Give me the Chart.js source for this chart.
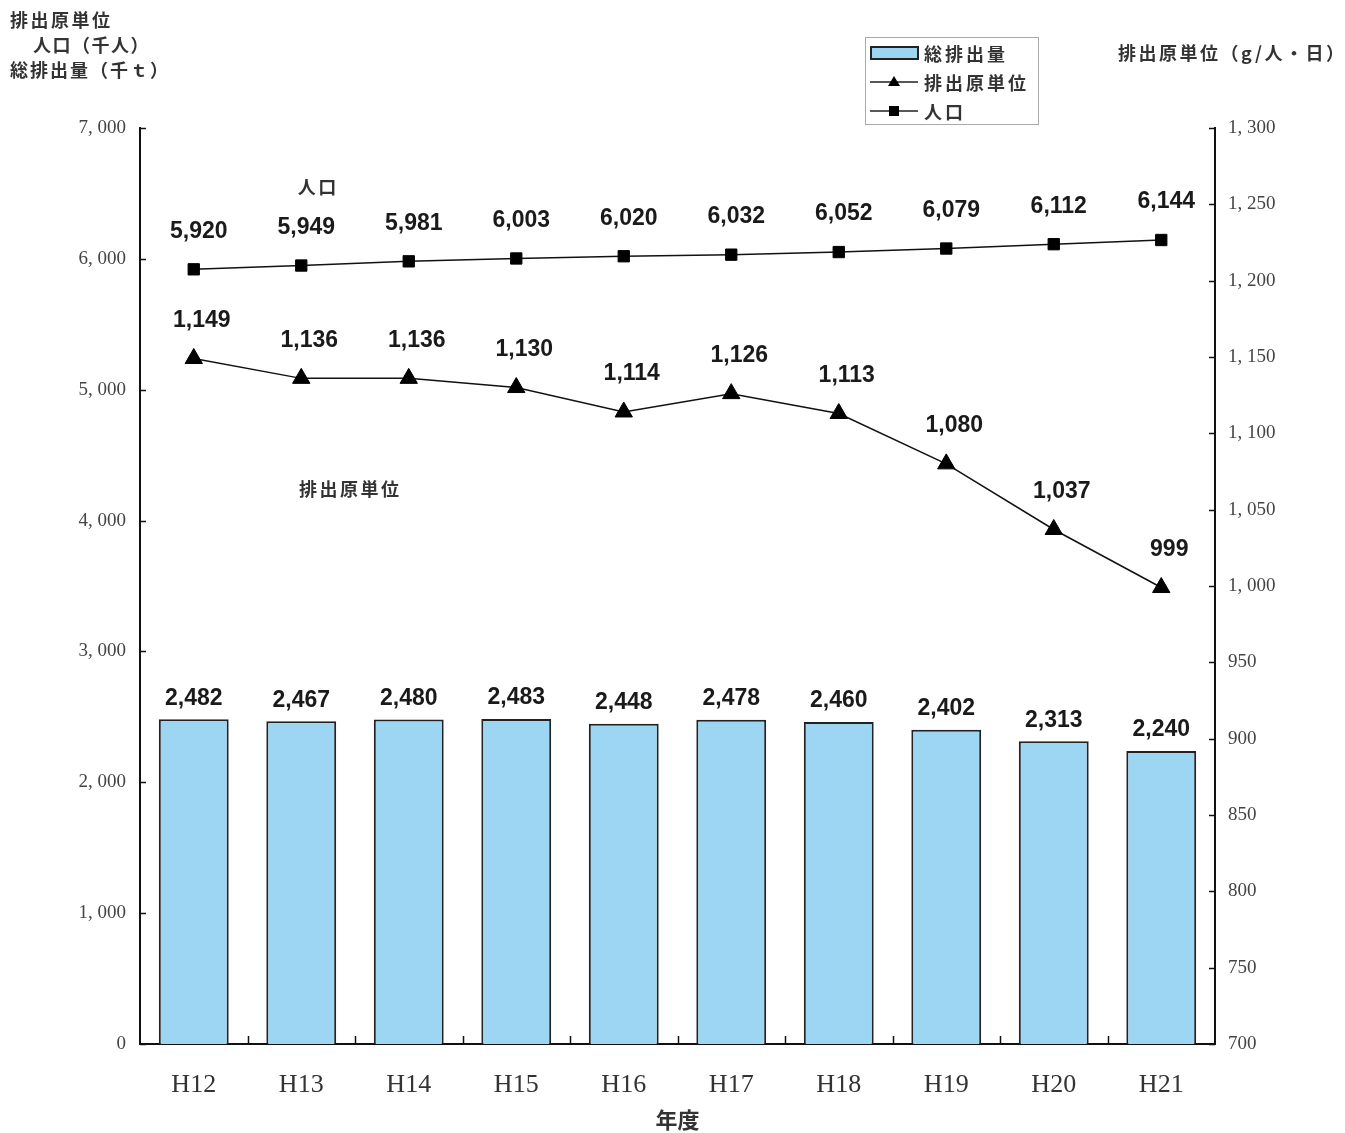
<!DOCTYPE html>
<html lang="ja">
<head>
<meta charset="utf-8">
<title>ごみ排出量の推移</title>
<script src="https://cdn.jsdelivr.net/npm/chart.js@4.4.1/dist/chart.umd.min.js"></script>
<style>
  html, body { margin: 0; padding: 0; background: #fff; }
  #wrap { width: 1345px; height: 1133px; position: relative; }
</style>
</head>
<body>
<div id="wrap"><canvas id="c" width="1345" height="1133"></canvas></div>
<script>
// 年度
const years = ['H12', 'H13', 'H14', 'H15', 'H16', 'H17', 'H18', 'H19', 'H20', 'H21'];
// 総排出量（千t）
const totalWaste = [2482, 2467, 2480, 2483, 2448, 2478, 2460, 2402, 2313, 2240];
// 排出原単位（g/人・日）
const perCapita = [1149, 1136, 1136, 1130, 1114, 1126, 1113, 1080, 1037, 999];
// 人口（千人）
const population = [5920, 5949, 5981, 6003, 6020, 6032, 6052, 6079, 6112, 6144];

const leftTicks = [0, 1000, 2000, 3000, 4000, 5000, 6000, 7000];
const rightTicks = [700, 750, 800, 850, 900, 950, 1000, 1050, 1100, 1150, 1200, 1250, 1300];

const JP = '"Noto Sans CJK JP", "Noto Sans", sans-serif';
const NUM = '"Liberation Sans", Arial, sans-serif';
const SERIF = '"Liberation Serif", "DejaVu Serif", serif';
const BAR_FILL = '#9dd6f3';

function axisNum(v) {
  return v >= 1000 ? Math.floor(v / 1000) + ', ' + String(v % 1000).padStart(3, '0') : String(v);
}
function valNum(v) { return v.toLocaleString('en-US'); }

function spaced(ctx, text, x, y, spacing) {
  ctx.letterSpacing = spacing + 'px';
  ctx.fillText(text, x, y);
  ctx.letterSpacing = '0px';
}

const decor = {
  id: 'decor',
  afterDraw(chart) {
    const ctx = chart.ctx;
    const { x, y, y2 } = chart.scales;
    const area = chart.chartArea;
    ctx.save();

    // inward tick marks
    ctx.strokeStyle = '#111';
    ctx.lineWidth = 1.5;
    ctx.beginPath();
    leftTicks.forEach(v => {
      const py = Math.round(y.getPixelForValue(v)) + 0.5;
      ctx.moveTo(area.left, py); ctx.lineTo(area.left + 6, py);
    });
    rightTicks.forEach(v => {
      const py = Math.round(y2.getPixelForValue(v)) + 0.5;
      ctx.moveTo(area.right, py); ctx.lineTo(area.right - 6, py);
    });
    const step = (area.right - area.left) / years.length;
    for (let i = 1; i < years.length; i++) {
      const px = Math.round(area.left + step * i) + 0.5;
      ctx.moveTo(px, area.bottom); ctx.lineTo(px, area.bottom - 8);
    }
    ctx.stroke();

    // value labels
    ctx.fillStyle = '#1a1a1a';
    ctx.font = 'bold 23px ' + NUM;
    ctx.textAlign = 'center';
    ctx.textBaseline = 'middle';
    const barMeta = chart.getDatasetMeta(0);
    barMeta.data.forEach((el, i) => ctx.fillText(valNum(totalWaste[i]), el.x, el.y - 21));
    const unitMeta = chart.getDatasetMeta(1);
    unitMeta.data.forEach((el, i) => ctx.fillText(valNum(perCapita[i]), el.x + 8, el.y - 38));
    const popMeta = chart.getDatasetMeta(2);
    popMeta.data.forEach((el, i) => ctx.fillText(valNum(population[i]), el.x + 5, el.y - 38));

    // series captions inside the plot
    ctx.fillStyle = '#333';
    ctx.font = 'bold 18px ' + JP;
    spaced(ctx, '人口', x.getPixelForValue(1) + 17, y.getPixelForValue(6550), 2.5);
    spaced(ctx, '排出原単位', x.getPixelForValue(1) + 49, y.getPixelForValue(4240), 2.5);

    // axis titles
    ctx.textAlign = 'left';
    spaced(ctx, '排出原単位', 10, 20, 2.5);
    spaced(ctx, '人口（千人）', 33, 45, 1.5);
    spaced(ctx, '総排出量（千ｔ）', 10, 70, 2);
    spaced(ctx, '排出原単位（g/人・日）', 1118, 53, 2.5);
    ctx.textAlign = 'center';
    ctx.font = 'bold 22px ' + JP;
    ctx.fillText('年度', (area.left + area.right) / 2, 1120);

    // legend
    const lx = 865, ly = 37, lw = 173, lh = 87;
    ctx.fillStyle = '#fff';
    ctx.fillRect(lx, ly, lw, lh);
    ctx.strokeStyle = '#aaa';
    ctx.lineWidth = 1;
    ctx.strokeRect(lx + 0.5, ly + 0.5, lw, lh);
    ctx.fillStyle = BAR_FILL;
    ctx.fillRect(871, 47, 47, 12);
    ctx.strokeStyle = '#222';
    ctx.lineWidth = 2;
    ctx.strokeRect(871, 47, 47, 12);
    ctx.lineWidth = 1.5;
    ctx.beginPath();
    ctx.moveTo(870, 82); ctx.lineTo(918, 82);
    ctx.moveTo(870, 111); ctx.lineTo(918, 111);
    ctx.stroke();
    ctx.fillStyle = '#000';
    ctx.beginPath();
    ctx.moveTo(894, 76); ctx.lineTo(900, 86); ctx.lineTo(888, 86); ctx.closePath();
    ctx.fill();
    ctx.fillRect(889, 106, 10, 10);
    ctx.fillStyle = '#333';
    ctx.font = 'bold 18px ' + JP;
    ctx.textAlign = 'left';
    spaced(ctx, '総排出量', 924, 54, 3);
    spaced(ctx, '排出原単位', 924, 83, 3);
    spaced(ctx, '人口', 924, 112, 3);
    ctx.restore();
  }
};

new Chart(document.getElementById('c'), {
  type: 'bar',
  data: {
    labels: years,
    datasets: [
      {
        type: 'bar', label: '総排出量', data: totalWaste, yAxisID: 'y', order: 3,
        backgroundColor: BAR_FILL, borderColor: '#222', borderWidth: 2,
        categoryPercentage: 1.0, barPercentage: 0.65
      },
      {
        type: 'line', label: '排出原単位', data: perCapita, yAxisID: 'y2', order: 1,
        borderColor: '#111', borderWidth: 1.5, pointStyle: 'triangle', pointRadius: 10,
        pointBackgroundColor: '#000', pointBorderColor: '#000', pointBorderWidth: 1
      },
      {
        type: 'line', label: '人口', data: population, yAxisID: 'y', order: 2,
        borderColor: '#111', borderWidth: 1.5, pointStyle: 'rect', pointRadius: 8,
        pointBackgroundColor: '#000', pointBorderColor: '#000', pointBorderWidth: 1
      }
    ]
  },
  options: {
    responsive: false,
    animation: false,
    layout: { padding: { top: 128, left: 0, right: 0, bottom: 0 } },
    plugins: { legend: { display: false }, tooltip: { enabled: false } },
    scales: {
      x: {
        type: 'category', offset: true,
        grid: { display: false, drawTicks: false },
        border: { display: true, color: '#111', width: 2 },
        ticks: { font: { family: SERIF, size: 26 }, color: '#333', padding: 26 },
        afterFit(s) { s.height = 89; }
      },
      y: {
        position: 'left', min: 0, max: 7000,
        afterBuildTicks(s) { s.ticks = leftTicks.map(v => ({ value: v })); },
        grid: { display: false, drawTicks: false },
        border: { display: true, color: '#111', width: 2 },
        ticks: { font: { family: SERIF, size: 19 }, color: '#444', padding: 14, callback: v => axisNum(v) },
        afterFit(s) { s.width = 140; }
      },
      y2: {
        position: 'right', min: 700, max: 1300,
        afterBuildTicks(s) { s.ticks = rightTicks.map(v => ({ value: v })); },
        grid: { display: false, drawTicks: false },
        border: { display: true, color: '#111', width: 2 },
        ticks: { font: { family: SERIF, size: 19 }, color: '#444', padding: 13, callback: v => axisNum(v) },
        afterFit(s) { s.width = 130; }
      }
    }
  },
  plugins: [decor]
});
</script>
</body>
</html>
